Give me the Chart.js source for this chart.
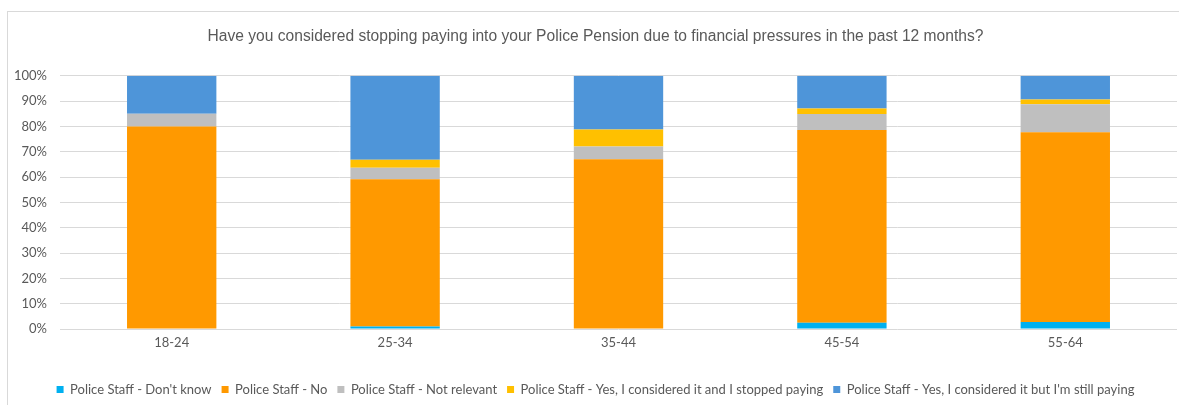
<!DOCTYPE html>
<html>
<head>
<meta charset="utf-8">
<script src="https://cdn.jsdelivr.net/npm/chart.js@4"></script>
<style>
  body { margin: 0; background: #fff; }
  #wrap { position: relative; width: 1179px; height: 405px; overflow: hidden; }
  #frame { position: absolute; left: 7px; top: 11px; width: 1200px; height: 420px;
           border-left: 1px solid #d9d9d9; border-top: 1px solid #d9d9d9; }
  #myChart { position: absolute; left: 0; top: 0; }
</style>
</head>
<body>
<div id="wrap">
  <div id="frame"></div>
  <canvas id="myChart" width="1179" height="405"></canvas>
</div>
<script>
const ageGroups = ["18-24", "25-34", "35-44", "45-54", "55-64"];

// percentages for each answer, one value per age group
const dontKnow    = [0,  1.0,  0,   2.5,  2.8];
const answeredNo  = [80, 58.1, 67,  76.1, 74.9];
const notRelevant = [5,  4.6,  5.1, 6.3,  11.0];
const stoppedPay  = [0,  3.1,  6.7, 2.2,  1.9];
const stillPaying = [15, 33.2, 21.2, 12.9, 9.4];

const seriesNames = [
  "Police Staff - Don't know",
  "Police Staff - No",
  "Police Staff - Not relevant",
  "Police Staff - Yes, I considered it and I stopped paying",
  "Police Staff - Yes, I considered it but I'm still paying"
];
const seriesColors = ["#00b0f0", "#ff9900", "#bfbfbf", "#ffc000", "#4e95d9"];
const seriesValues = [dontKnow, answeredNo, notRelevant, stoppedPay, stillPaying];

const textColor = "#595959";
const uiFont = "Lato, 'Liberation Sans', sans-serif";

const ctx = document.getElementById("myChart").getContext("2d");
const chart = new Chart(ctx, {
  type: "bar",
  data: {
    labels: ageGroups,
    datasets: seriesValues.map((vals, i) => ({
      label: seriesNames[i],
      data: vals,
      backgroundColor: seriesColors[i],
      borderWidth: 0,
      categoryPercentage: 1,
      barPercentage: 0.4
    }))
  },
  options: {
    responsive: false,
    animation: false,
    layout: { padding: { left: 14, right: 2, top: 0, bottom: -1 } },
    plugins: {
      title: {
        display: true,
        text: "Have you considered stopping paying into your Police Pension due to financial pressures in the past 12 months?",
        color: textColor,
        font: { family: "'Liberation Sans Narrow', 'Liberation Sans', sans-serif", size: 15.6, weight: "normal" },
        padding: { top: 27, bottom: 30 }
      },
      legend: {
        position: "bottom",
        labels: {
          color: textColor,
          font: { family: uiFont, size: 13 },
          boxWidth: 7,
          boxHeight: 7,
          padding: 10
        }
      },
      tooltip: { enabled: false }
    },
    scales: {
      x: {
        stacked: true,
        afterFit: function(scale) { scale.height = 44; },
        grid: { display: false, drawTicks: false },
        border: { display: false },
        ticks: { color: textColor, font: { family: uiFont, size: 13 }, padding: 6 }
      },
      y: {
        stacked: true,
        min: 0,
        max: 100,
        afterFit: function(scale) { scale.width = 46; },
        grid: { color: "#d9d9d9", lineWidth: 1, drawTicks: false },
        border: { display: false },
        ticks: {
          stepSize: 10,
          color: textColor,
          font: { family: uiFont, size: 13 },
          padding: 13,
          callback: v => v + "%"
        }
      }
    }
  }
});
</script>
</body>
</html>
